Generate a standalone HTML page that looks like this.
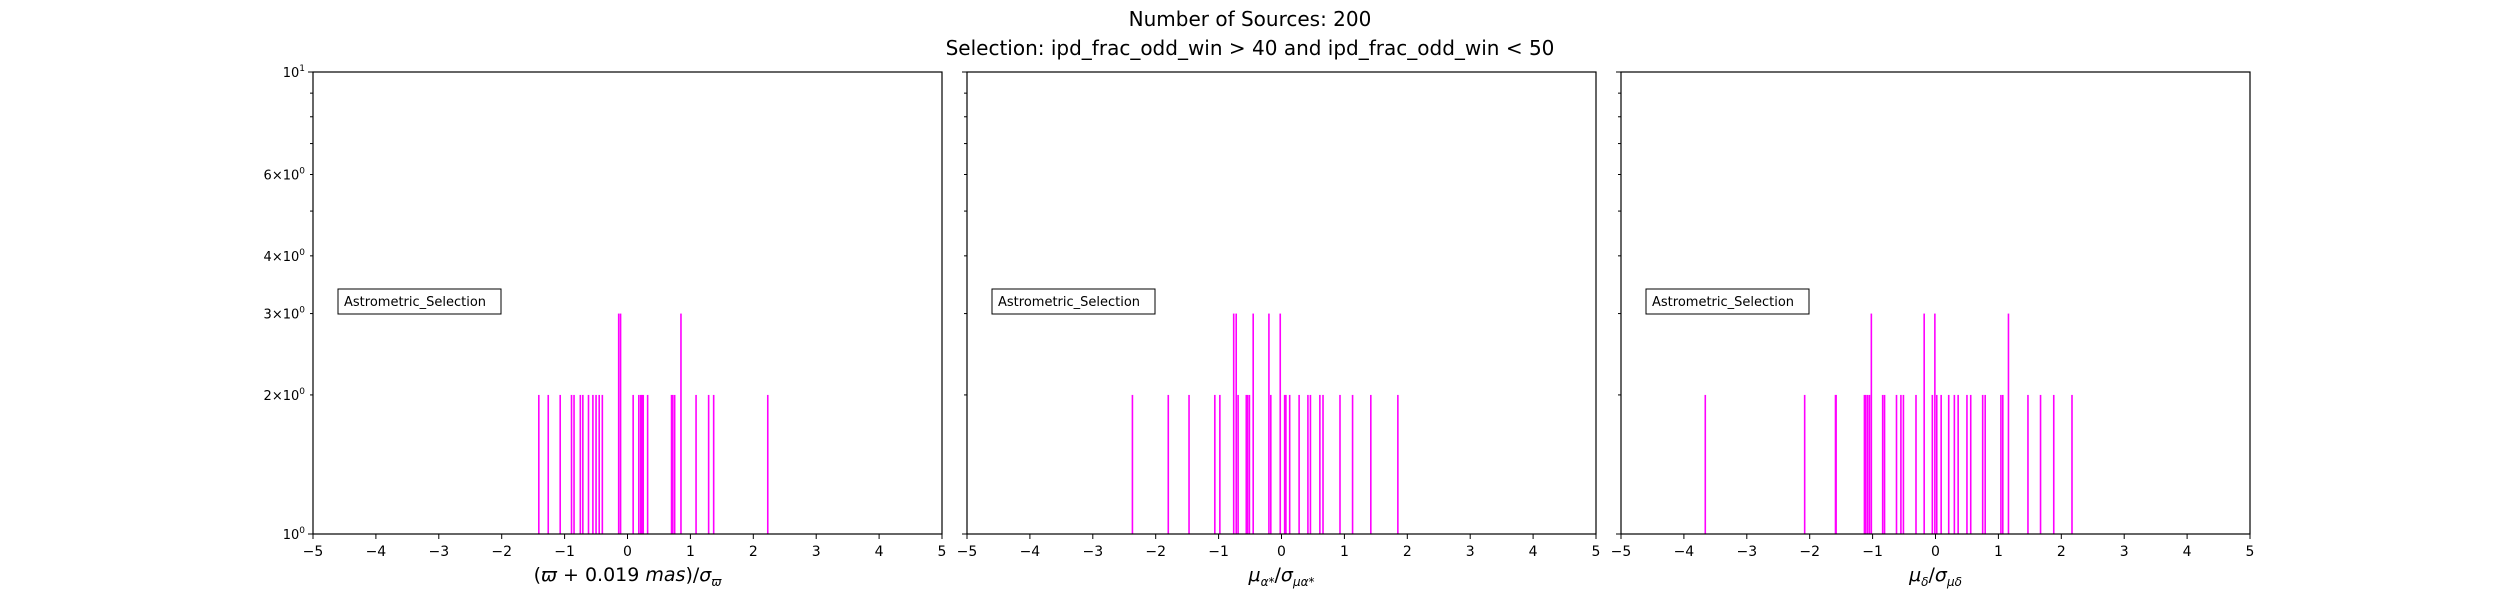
<!DOCTYPE html>
<html><head><meta charset="utf-8"><style>
html,body{margin:0;padding:0;background:#fff;}
svg{display:block;font-family:"DejaVu Sans","Liberation Sans",sans-serif;}
</style></head><body>
<svg id="chart" width="2500" height="600" viewBox="0 0 2500 600" xmlns="http://www.w3.org/2000/svg">
<text x="1250" y="26" font-size="20" text-anchor="middle">Number of Sources: 200</text>
<text x="1250" y="55" font-size="20" text-anchor="middle">Selection: ipd_frac_odd_win &gt; 40 and ipd_frac_odd_win &lt; 50</text>
</svg>
<script>
const xTicks = [-5,-4,-3,-2,-1,0,1,2,3,4,5];
const yMajorTicks = [2,3,4,6];
const panel1Values2 = [-1.41,-1.26,-1.07,-0.89,-0.85,-0.75,-0.71,-0.62,-0.55,-0.50,-0.45,-0.40,0.09,0.18,0.21,0.23,0.25,0.32,0.70,0.72,0.75,1.09,1.29,1.37,2.23];
const panel1Values3 = [-0.14,-0.11,0.85];
const panel2Values2 = [-2.37,-1.80,-1.47,-1.06,-0.98,-0.69,-0.56,-0.54,-0.51,-0.17,0.05,0.07,0.13,0.28,0.42,0.46,0.61,0.66,0.93,1.13,1.42,1.85];
const panel2Values3 = [-0.76,-0.72,-0.45,-0.20,-0.02];
const panel3Values2 = [-3.66,-2.08,-1.59,-1.58,-1.13,-1.11,-1.08,-1.05,-0.84,-0.81,-0.62,-0.55,-0.51,-0.31,-0.05,0.02,0.09,0.21,0.30,0.36,0.50,0.56,0.75,0.79,1.04,1.07,1.47,1.67,1.88,2.17];
const panel3Values3 = [-1.02,-0.18,-0.01,1.16];

const NS='http://www.w3.org/2000/svg';
const svg=document.getElementById('chart');
const top_=72, bot=534;
function yS(v){return bot-Math.log10(v)*(bot-top_);}
function mk(tag,attrs,parent){const e=document.createElementNS(NS,tag);for(const k in attrs)e.setAttribute(k,attrs[k]);(parent||svg).appendChild(e);return e;}

const panels=[
 {left:313,right:942,c2:panel1Values2,c3:panel1Values3,label:'parallax',labels:true},
 {left:967,right:1596,c2:panel2Values2,c3:panel2Values3,label:'pmra',labels:false},
 {left:1621,right:2250,c2:panel3Values2,c3:panel3Values3,label:'pmdec',labels:false}
];
panels.forEach((p,i)=>{
 const g=mk('g',{});
 
 
 const xS=v=>p.left+(v+5)/10*(p.right-p.left);
 const drawBars=(vals,c)=>vals.forEach(v=>{
  const r=mk('rect',{x:xS(v)-0.8,y:yS(c),width:1.6,height:bot-yS(c),fill:'#ff00ff'},g);
  
  
 });
 drawBars(p.c2,2);drawBars(p.c3,3);
 const frame=mk('rect',{x:p.left,y:top_,width:p.right-p.left,height:bot-top_,fill:'none',stroke:'#000','stroke-width':1.2},g);
 
 
 xTicks.forEach(t=>{
  const x=xS(t);
  mk('line',{x1:x,x2:x,y1:bot,y2:bot+5,stroke:'#000','stroke-width':1},g);
  const tx=mk('text',{x:x,y:556,'font-size':14,'text-anchor':'middle'},g);
  tx.textContent=(t<0?'\u2212'+(-t):''+t);
  
  
 });
 for(let m=1;m<=10;m++){
  const y=yS(m);
  const len=(m===1||m===10)?5:3;
  mk('line',{x1:p.left-len,x2:p.left,y1:y,y2:y,stroke:'#000','stroke-width':1},g);
 }
 if(p.labels){
  const lbl=(y,mant)=>{
   const t=mk('text',{x:305,y:y+5,'font-size':13,'text-anchor':'end'},g);
   
   
   t.innerHTML=(mant?mant+'\u00d7':'')+'10<tspan dy="-6" font-size="9">'+(mant===null&&y===yS(10)?'1':'0')+'</tspan>';
  };
  lbl(yS(10),null);lbl(yS(1),null);
  yMajorTicks.forEach(v=>lbl(yS(v),v));
 }
 const lg=mk('g',{},g);
 
 
 mk('rect',{x:p.left+25,y:289,width:163,height:25,fill:'#fff',stroke:'#000','stroke-width':1},lg);
 const lt=mk('text',{x:p.left+31,y:306,'font-size':13},lg);
 lt.textContent='Astrometric_Selection';
 const xl=mk('text',{x:(p.left+p.right)/2,y:581,'font-size':19,'text-anchor':'middle','font-style':'italic'},g);
 
 
 if(i===0) xl.innerHTML='<tspan font-style="normal">(</tspan>\u03d6<tspan font-style="normal"> + 0.019 </tspan>mas<tspan font-style="normal">)/</tspan>\u03c3<tspan font-size="12" dy="5">\u03d6</tspan>';
 else if(i===1) xl.innerHTML='\u03bc<tspan font-size="12" dy="5">\u03b1*</tspan><tspan dy="-5" font-style="normal">/</tspan>\u03c3<tspan font-size="12" dy="5">\u03bc\u03b1*</tspan>';
 else xl.innerHTML='\u03bc<tspan font-size="12" dy="5">\u03b4</tspan><tspan dy="-5" font-style="normal">/</tspan>\u03c3<tspan font-size="12" dy="5">\u03bc\u03b4</tspan>';
});
</script>
</body></html>
